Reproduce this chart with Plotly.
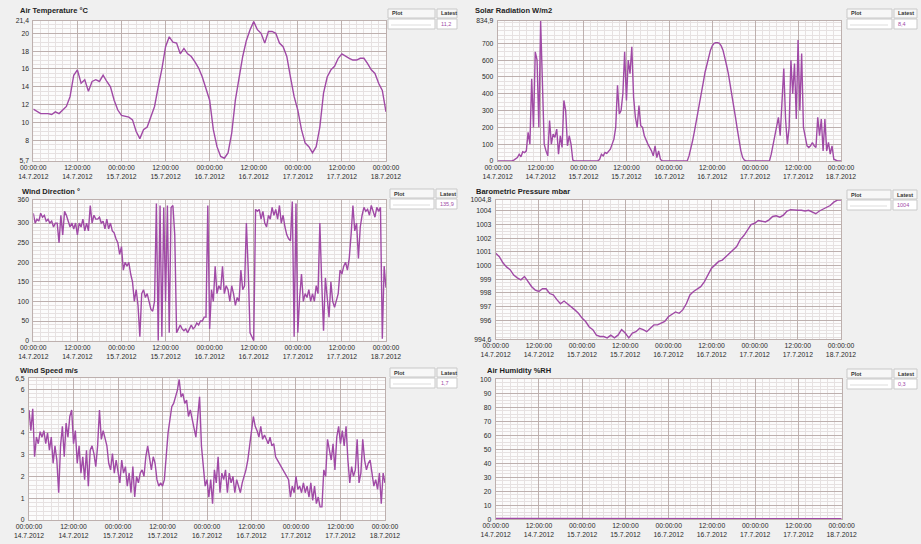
import plotly.graph_objects as go
import pandas as pd

# ---------------- data ----------------
START = "2012-07-14 00:00"
END = "2012-07-18 00:00"

tick_labels = ["00:00:00<br>14.7.2012", "12:00:00<br>14.7.2012", "00:00:00<br>15.7.2012",
               "12:00:00<br>15.7.2012", "00:00:00<br>16.7.2012", "12:00:00<br>16.7.2012",
               "00:00:00<br>17.7.2012", "12:00:00<br>17.7.2012", "00:00:00<br>18.7.2012"]
tick_times = ["2012-07-14 00:00", "2012-07-14 12:00", "2012-07-15 00:00", "2012-07-15 12:00",
              "2012-07-16 00:00", "2012-07-16 12:00", "2012-07-17 00:00", "2012-07-17 12:00",
              "2012-07-18 00:00"]

# hourly air temperature (°C)
air_temp = [11.5, 11.2, 11.0, 11.0, 11.0, 10.9, 11.2, 11.0, 11.4, 11.8,
            12.9, 15.3, 15.9, 14.4, 14.8, 13.5, 14.6, 14.8, 14.6, 15.3,
            14.6, 14.0, 12.5, 11.4, 10.8, 10.7, 10.6, 10.3, 9.0, 8.2,
            9.2, 9.5, 10.7, 11.8, 14.0, 16.0, 18.5, 19.6, 19.0, 18.9,
            17.7, 18.3, 17.7, 17.4, 16.8, 16.1, 15.1, 13.8, 12.5, 9.2,
            7.3, 6.2, 6.0, 6.6, 8.8, 12.5, 14.8, 17.4, 19.2, 20.4,
            21.3, 20.4, 20.0, 18.9, 20.2, 20.2, 20.0, 18.9, 18.5, 17.4,
            15.1, 12.9, 11.4, 9.2, 7.7, 7.3, 6.6, 7.3, 9.5, 13.3,
            15.1, 15.9, 16.3, 17.2, 17.7, 17.4, 17.2, 17.0, 17.0, 17.2,
            17.2, 16.6, 15.9, 15.5, 14.4, 13.6, 11.2]

# half-hourly solar radiation (W/m2)
solar = [0, 0, 0, 0, 0, 0, 0, 0, 0, 5,
         15, 20, 40, 25, 55, 50, 60, 170, 100, 490,
         200, 650, 600, 200, 834, 400, 100, 60, 30, 240,
         100, 160, 140, 190, 40, 150, 80, 360, 300, 90,
         150, 100, 5, 0, 0, 0, 0, 0, 0, 0,
         0, 0, 0, 0, 0, 0, 0, 10, 40, 30,
         50, 45, 55, 70, 100, 130, 200, 450, 280, 300,
         400, 650, 360, 600, 520, 680, 380, 260, 200, 330,
         210, 200, 150, 120, 100, 80, 60, 30, 90, 20,
         60, 10, 0, 0, 0, 0, 0, 0, 0, 0,
         0, 0, 0, 0, 0, 0, 0, 30, 70, 120,
         175, 230, 290, 350, 410, 470, 530, 580, 620, 660,
         685, 700, 705, 705, 700, 685, 660, 620, 570, 520,
         460, 400, 330, 260, 190, 120, 60, 20, 5, 0,
         0, 0, 0, 0, 0, 0, 0, 0, 0, 0,
         0, 0, 0, 40, 100, 150, 200, 260, 150, 390,
         550, 250, 100, 200, 600, 400, 580, 250, 720, 300,
         640, 200, 150, 90, 80, 90, 110, 90, 80, 260,
         150, 250, 60, 250, 60, 110, 40, 90, 10, 5,
         0, 0, 0]

# half-hourly wind direction (°)
wind_dir = [325, 300, 310, 305, 325, 315, 320, 305, 310, 300,
            305, 290, 300, 300, 250, 320, 270, 330, 320, 305,
            290, 300, 285, 300, 270, 300, 290, 310, 280, 300,
            280, 345, 300, 320, 310, 310, 315, 300, 305, 285,
            310, 285, 300, 280, 275, 260, 250, 220, 240, 180,
            200, 190, 200, 170, 150, 100, 130, 90, 10, 120,
            130, 110, 120, 100, 80, 75, 100, 350, 0, 345,
            10, 340, 100, 345, 20, 340, 345, 270, 20, 30,
            40, 30, 25, 30, 20, 30, 40, 30, 35, 45,
            40, 50, 50, 60, 60, 345, 30, 130, 100, 190,
            120, 140, 130, 190, 120, 140, 130, 100, 140, 120,
            90, 110, 100, 180, 130, 140, 300, 180, 20, 10,
            0, 335, 330, 335, 310, 330, 300, 290, 320, 310,
            340, 320, 335, 310, 345, 300, 320, 290, 270, 260,
            255, 355, 10, 350, 20, 110, 170, 100, 120, 110,
            130, 100, 120, 100, 140, 120, 300, 150, 25, 160,
            100, 60, 150, 100, 85, 100, 120, 180, 170, 190,
            200, 180, 210, 270, 345, 280, 300, 210, 290, 320,
            340, 330, 335, 320, 345, 330, 315, 340, 330, 340,
            5, 190, 135]

# hourly barometric pressure (mbar)
pressure = [1000.9, 1000.65, 1000.2, 999.9, 999.7, 999.3, 999.1, 998.95, 999.2, 998.8,
            998.45, 998.2, 998.1, 998.3, 998.3, 997.95, 997.85, 997.5, 997.2, 997.4,
            997.2, 997.0, 996.75, 996.5, 996.15, 995.9, 995.5, 995.3, 994.9, 994.8,
            994.8, 994.7, 994.9, 994.7, 994.9, 995.3, 995.05, 994.7, 995.05, 995.15,
            995.4, 995.3, 995.15, 995.4, 995.65, 995.65, 995.8, 995.9, 996.25, 996.4,
            996.6, 996.5, 996.75, 997.2, 997.85, 998.1, 998.3, 998.45, 998.8, 999.3,
            999.8, 1000.05, 1000.3, 1000.4, 1000.65, 1000.9, 1001.15, 1001.4, 1001.9, 1002.2,
            1002.6, 1003.0, 1003.1, 1003.3, 1003.25, 1003.2, 1003.35, 1003.6, 1003.65, 1003.55,
            1003.7, 1004.0, 1004.1, 1004.05, 1004.05, 1004.05, 1004.0, 1004.05, 1003.95, 1003.8,
            1004.0, 1004.15, 1004.25, 1004.4, 1004.65, 1004.8, 1004.8]

# half-hourly wind speed (m/s)
wind_speed = [5.05, 4.1, 5.1, 2.9, 3.8, 3.5, 4.05, 3.8, 4.1, 3.5,
              4.0, 3.2, 3.8, 2.6, 3.4, 2.75, 1.25, 3.4, 4.3, 2.9,
              4.45, 3.8, 4.75, 5.05, 3.5, 4.1, 2.6, 3.4, 2.15, 2.9,
              1.85, 3.2, 1.55, 3.2, 3.4, 3.05, 2.45, 3.4, 5.05, 3.7,
              4.1, 3.8, 3.4, 2.6, 2.3, 3.05, 2.15, 2.75, 2.3, 1.7,
              2.75, 2.15, 2.45, 1.55, 2.15, 1.25, 2.45, 1.05, 2.0, 1.7,
              2.15, 2.3, 2.0, 2.9, 3.4, 2.75, 2.3, 2.9, 2.6, 1.85,
              1.55, 1.7, 1.55, 1.85, 3.05, 4.0, 4.6, 5.2, 5.35, 5.65,
              5.95, 6.45, 5.65, 5.8, 5.35, 5.5, 4.75, 5.05, 4.6, 4.3,
              3.8, 4.75, 5.65, 3.4, 2.45, 1.55, 1.85, 1.05, 1.85, 0.75,
              2.3, 1.7, 2.9, 1.25, 2.15, 1.85, 2.3, 1.25, 2.15, 1.7,
              2.0, 1.25, 1.85, 1.55, 1.25, 1.7, 2.0, 2.3, 2.75, 3.5,
              4.3, 4.75, 4.3, 4.1, 3.8, 4.3, 3.7, 3.9, 3.7, 3.5,
              3.8, 3.4, 3.5, 2.9, 2.75, 2.6, 2.45, 2.3, 2.15, 2.0,
              1.85, 1.05, 1.55, 1.25, 2.0, 1.4, 1.55, 1.25, 1.7, 1.25,
              1.55, 1.05, 1.7, 0.9, 1.55, 0.75, 1.05, 0.6, 0.6, 2.3,
              2.0, 3.7, 3.2, 2.75, 3.5, 2.3, 3.8, 4.3, 3.5, 4.1,
              3.4, 4.3, 2.75, 1.7, 2.45, 2.0, 2.3, 3.7, 1.7, 2.15,
              3.7, 2.75, 2.3, 2.6, 2.75, 2.15, 1.55, 1.85, 1.4, 2.15,
              0.75, 2.15, 1.7]

# 12-hourly air humidity (%RH)
humidity = [0.5, 0.5, 0.5, 0.5, 0.5, 0.5, 0.5, 0.5, 0.4]

latest = ["11,2", "8,4", "135,9", "1004", "1,7", "0,3"]

hourly_t = pd.date_range(START, periods=97, freq="h")
half_t = pd.date_range(START, periods=193, freq="30min")
twelve_t = pd.date_range(START, periods=9, freq="12h")

# ---------------- layout helpers ----------------
W, H = 921, 544
MAJOR = "#bdb0ae"
MINOR = "#e6e1e1"
LINE = "#a04aa6"
FONT = "Liberation Sans, Arial, sans-serif"

panels = [
    dict(title="Air Temperature °C", x=hourly_t, y=air_temp, rng=(5.7, 21.4),
         tv=[5.7, 8, 10, 12, 14, 16, 18, 20, 21.4],
         tt=["5,7", "8", "10", "12", "14", "16", "18", "20", "21,4"], minor=0.5,
         box=(33.3, 386, 20.7, 161), tpos=(18, 10), widget=(388, 457, 436, 9)),
    dict(title="Solar Radiation W/m2", x=half_t, y=solar, rng=(0, 834.9),
         tv=[0, 100, 200, 300, 400, 500, 600, 700, 834.9],
         tt=["0", "100", "200", "300", "400", "500", "600", "700", "834,9"], minor=25,
         box=(497.7, 841, 20.7, 161), tpos=(473, 10), widget=(847, 917, 893, 9)),
    dict(title="Wind Direction °", x=half_t, y=wind_dir, rng=(0, 360),
         tv=[0, 50, 100, 150, 200, 250, 300, 360],
         tt=["0", "50", "100", "150", "200", "250", "300", "360"], minor=10,
         box=(33.3, 386, 199.5, 340.7), tpos=(20, 191), widget=(390, 457, 435, 189)),
    dict(title="Barometric Pressure mbar", x=hourly_t, y=pressure, rng=(994.6, 1004.8),
         tv=[994.6, 996, 997, 998, 999, 1000, 1001, 1002, 1003, 1004, 1004.8],
         tt=["994,6", "996", "997", "998", "999", "1000", "1001", "1002", "1003", "1004", "1004,8"],
         minor=0.25, box=(495.7, 841, 200, 339.3), tpos=(474, 191), widget=(847, 917, 892, 190)),
    dict(title="Wind Speed m/s", x=half_t, y=wind_speed, rng=(0, 6.5),
         tv=[0, 1, 2, 3, 4, 5, 6, 6.5],
         tt=["0", "1", "2", "3", "4", "5", "6", "6,5"], minor=0.2,
         box=(29, 385, 378.3, 520), tpos=(18, 370), widget=(390, 457, 436, 368)),
    dict(title="Air Humidity %RH", x=twelve_t, y=humidity, rng=(0, 100),
         tv=[0, 10, 20, 30, 40, 50, 60, 70, 80, 90, 100],
         tt=["0", "10", "20", "30", "40", "50", "60", "70", "80", "90", "100"], minor=2.5,
         box=(495.7, 841.7, 379.3, 519.3), tpos=(485, 370), widget=(847, 917, 893, 369)),
]

fig = go.Figure()
shapes = []
annotations = []


def px(v):
    return v / W


def py(v):
    return 1 - v / H


for i, p in enumerate(panels):
    n = i + 1
    xa = "x" if n == 1 else f"x{n}"
    ya = "y" if n == 1 else f"y{n}"
    fig.add_trace(go.Scatter(x=p["x"], y=p["y"], mode="lines",
                             line=dict(color=LINE, width=1.4),
                             xaxis=xa, yaxis=ya, showlegend=False, hoverinfo="skip",
                             cliponaxis=False))
    l, r, t, b = p["box"]
    lo, hi = p["rng"]
    eps = (hi - lo) * 0.0005
    xkey = "xaxis" if n == 1 else f"xaxis{n}"
    ykey = "yaxis" if n == 1 else f"yaxis{n}"
    fig.update_layout({
        xkey: dict(domain=[px(l), px(r)], anchor=ya, type="date", automargin=False,
                   range=["2012-07-13 23:59:40", "2012-07-18 00:00:20"],
                   tickmode="array", tickvals=tick_times, ticktext=tick_labels,
                   showgrid=True, gridcolor=MAJOR, gridwidth=1,
                   minor=dict(dtick=2 * 3600 * 1000, tick0=START, showgrid=True,
                              gridcolor=MINOR, gridwidth=1),
                   showline=True, linecolor=MAJOR, linewidth=1, mirror=True,
                   zeroline=False, ticks="", tickangle=0,
                   tickfont=dict(family=FONT, size=6.8, color="#2a2a2a")),
        ykey: dict(domain=[py(b), py(t)], anchor=xa, automargin=False,
                   range=[lo - eps, hi + eps],
                   tickmode="array", tickvals=p["tv"], ticktext=p["tt"],
                   showgrid=True, gridcolor=MAJOR, gridwidth=1,
                   minor=dict(dtick=p["minor"], tick0=0, showgrid=True,
                              gridcolor=MINOR, gridwidth=1),
                   showline=True, linecolor=MAJOR, linewidth=1, mirror=True,
                   zeroline=False, ticks="", ticklabelstandoff=2,
                   tickfont=dict(family=FONT, size=6.8, color="#2a2a2a")),
    })
    tx, ty = p["tpos"]
    annotations.append(dict(text="<b>" + p["title"] + "</b>", xref="paper", yref="paper",
                            x=px(tx), y=py(ty), xanchor="left", yanchor="middle",
                            showarrow=False, font=dict(family=FONT, size=7.5, color="#222222")))
    # Plot / Latest widget
    wx0, wx1, wdiv, wy0 = p["widget"]
    hh = 9
    rh = 10
    cells = [
        (wx0, wdiv - 1, wy0, wy0 + hh, "#f7f7f7"),
        (wdiv + 1, wx1, wy0, wy0 + hh, "#f7f7f7"),
        (wx0, wdiv - 1, wy0 + hh + 1, wy0 + hh + 1 + rh, "#ffffff"),
        (wdiv + 1, wx1, wy0 + hh + 1, wy0 + hh + 1 + rh, "#ffffff"),
    ]
    for (c0, c1, r0, r1, fc) in cells:
        shapes.append(dict(type="rect", xref="paper", yref="paper",
                           x0=px(c0), x1=px(c1), y0=py(r1), y1=py(r0),
                           fillcolor=fc, line=dict(color="#c9c9c9", width=1), layer="above"))
    shapes.append(dict(type="line", xref="paper", yref="paper",
                       x0=px(wx0 + 3), x1=px(wdiv - 5), y0=py(wy0 + hh + 7), y1=py(wy0 + hh + 7),
                       line=dict(color="#dddddd", width=1), layer="above"))
    annotations.append(dict(text="<b>Plot</b>", xref="paper", yref="paper",
                            x=px(wx0 + 2), y=py(wy0 + hh / 2), xanchor="left", yanchor="middle",
                            showarrow=False, font=dict(family=FONT, size=5.5, color="#333333")))
    annotations.append(dict(text="<b>Latest</b>", xref="paper", yref="paper",
                            x=px(wdiv + 3), y=py(wy0 + hh / 2), xanchor="left", yanchor="middle",
                            showarrow=False, font=dict(family=FONT, size=5.5, color="#333333")))
    annotations.append(dict(text=latest[i], xref="paper", yref="paper",
                            x=px(wdiv + 3), y=py(wy0 + hh + 1 + rh / 2), xanchor="left",
                            yanchor="middle", showarrow=False,
                            font=dict(family=FONT, size=5.5, color=LINE)))

fig.update_layout(width=W, height=H, margin=dict(l=0, r=0, t=0, b=0),
                  paper_bgcolor="#f0f0f0", plot_bgcolor="#fcfcfc",
                  shapes=shapes, annotations=annotations, showlegend=False)

fig.write_html("out.html", config={"displayModeBar": False},
               post_script="document.body.style.margin='0px';"
                           "document.body.style.overflow='hidden';")
